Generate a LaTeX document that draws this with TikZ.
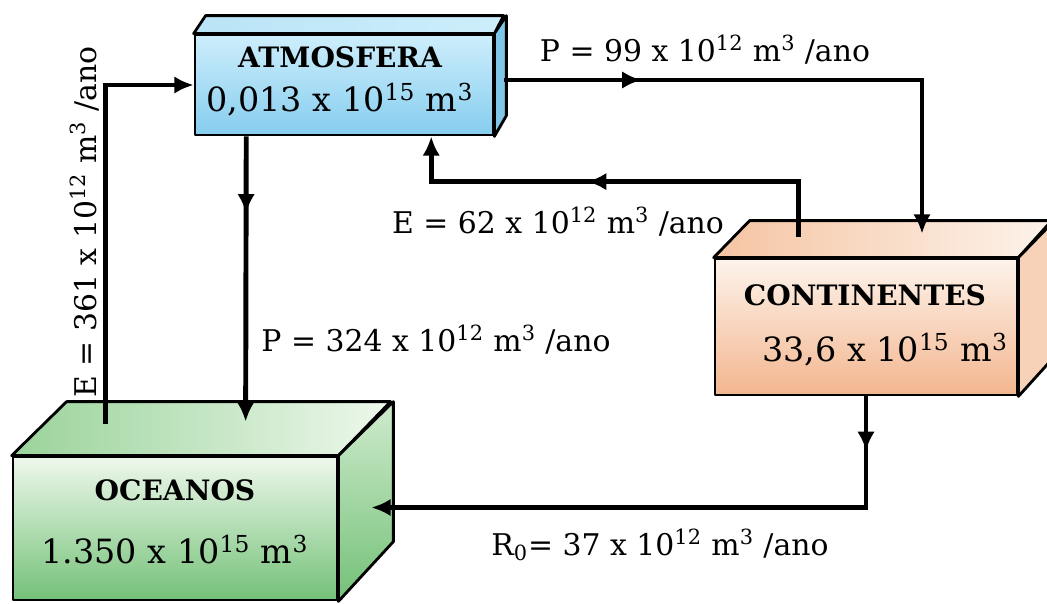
\documentclass[tikz,border=0pt]{standalone}
\usepackage{fontspec}
\setmainfont{DejaVu Serif}
\usetikzlibrary{arrows.meta,calc,decorations.markings}

\definecolor{atmlight}{HTML}{CDEEFB}
\definecolor{atmblue}{HTML}{86CDEF}
\definecolor{atmtop}{HTML}{B9E4F7}
\definecolor{atmside}{HTML}{7FC6E9}
\definecolor{ocnlight}{HTML}{EEF8EC}
\definecolor{ocngreen}{HTML}{74C178}
\definecolor{ocntop}{HTML}{9AD39A}
\definecolor{ocnside}{HTML}{CFEBCD}
\definecolor{cntlight}{HTML}{FDF3EB}
\definecolor{cntpeach}{HTML}{F3B68F}
\definecolor{cnttop}{HTML}{F5C4A2}
\definecolor{cntside}{HTML}{F8D2B8}

\begin{document}
\begin{tikzpicture}[x=0.02cm,y=-0.02cm,
    face/.style={draw=black, line width=1.6pt, line join=round},
    flow/.style={line width=2.8pt, -{Latex[length=11pt,width=10pt]}},
    midarrow/.style={postaction={decorate},
      decoration={markings, mark=at position #1 with {\arrow{Latex[length=11pt,width=10pt]}}}},
    lbl/.style={font=\fontsize{17}{20}\selectfont, inner sep=0pt},
    ttl/.style={font=\fontsize{16}{19}\selectfont\bfseries, inner sep=0pt},
    amt/.style={font=\fontsize{19}{22}\selectfont, inner sep=0pt}]
  \useasboundingbox (0,0) rectangle (1047,603);

  % atmosfera
  \node[face, minimum width=5.96cm, minimum height=2cm, top color=atmlight, bottom color=atmblue] (atm) at (344,85) {};
  \draw[face, left color=atmtop, right color=atmlight] (atm.north west) -- ++(12,-18) -- ++(298,0) -- (atm.north east) -- cycle;
  \draw[face, fill=atmside] (atm.north east) -- ++(12,-18) -- ++(0,100) -- (atm.south east) -- cycle;

  % oceanos
  \node[face, minimum width=6.48cm, minimum height=2.86cm, top color=ocnlight, bottom color=ocngreen] (ocn) at (175,528.5) {};
  \draw[face, left color=ocntop, right color=ocnlight] (ocn.north west) -- ++(55,-54) -- ++(324,0) -- (ocn.north east) -- cycle;
  \draw[face, top color=ocnside, bottom color=ocngreen] (ocn.north east) -- ++(55,-54) -- ++(0,140) -- (ocn.south east) -- cycle;

  % continentes
  \node[face, minimum width=6.04cm, minimum height=2.72cm, top color=cntlight, bottom color=cntpeach] (cnt) at (866,327) {};
  \draw[face, left color=cnttop, right color=cntlight] (cnt.north west) -- ++(36,-37) -- ++(302,0) -- (cnt.north east) -- cycle;
  \draw[face, fill=cntside] (cnt.north east) -- ++(36,-37) -- ++(0,136) -- (cnt.south east) -- cycle;

  \node[ttl] (atmname) at (340,57) {ATMOSFERA};
  \node[amt] (atmvol) at (340,100) {0,013 x 10\textsuperscript{15} m\textsuperscript{3}};
  \node[ttl] (ocnname) at (175,490) {OCEANOS};
  \node[amt] (ocnvol) at (175,550) {1.350 x 10\textsuperscript{15} m\textsuperscript{3}};
  \node[ttl] (cntname) at (865,295) {CONTINENTES};
  \node[amt] (cntvol) at (885,350) {33,6 x 10\textsuperscript{15} m\textsuperscript{3}};

  \draw[flow] ($(ocn.north west)+(94,-32)$) |- (atm.west);
  \draw[flow, midarrow=.27] ($(atm.south west)!.175!(atm.south east)$) -- ($(ocn.north west)+(234,-34)$);
  \draw[flow, midarrow=.24] ($(atm.east)+(10,-5)$) -| ($(cnt.north)+(56,-24)$);
  \draw[flow, midarrow=.57] ($(cnt.north west)+(85,-21)$) -- ++(0,-55) -| ($(atm.south west)!.79!(atm.south east)$);
  \draw[flow, midarrow=.09] (cnt.south) |- ($(ocn.east)+(33,-21)$);

  \node[lbl] (lp99) at (705,50) {P = 99 x 10\textsuperscript{12} m\textsuperscript{3} /ano};
  \node[lbl] (le62) at (558,222) {E = 62 x 10\textsuperscript{12} m\textsuperscript{3} /ano};
  \node[lbl] (lp324) at (436,340) {P = 324 x 10\textsuperscript{12} m\textsuperscript{3} /ano};
  \node[lbl] (lr0) at (660,545) {R\textsubscript{0}= 37 x 10\textsuperscript{12} m\textsuperscript{3} /ano};
  \node[lbl, rotate=90] (le361) at (85,222) {E = 361 x 10\textsuperscript{12} m\textsuperscript{3} /ano};
\end{tikzpicture}
\end{document}
